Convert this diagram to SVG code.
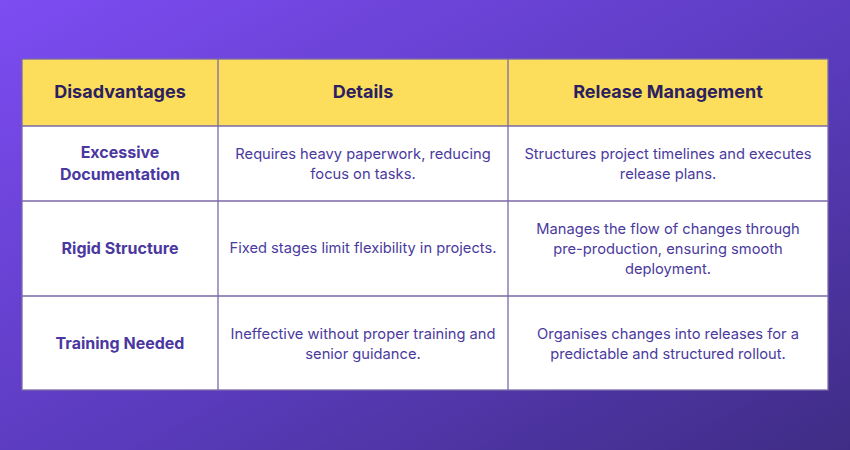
<svg xmlns="http://www.w3.org/2000/svg" width="850" height="450" viewBox="0 0 850 450">
<defs>
<linearGradient id="bg" x1="0" y1="0" x2="1" y2="1">
<stop offset="0" stop-color="#7d4cf2"/><stop offset="0.55" stop-color="#5a3bbd"/><stop offset="1" stop-color="#3f2d85"/>
</linearGradient>
<style>
.h{font-family:Inter,"Open Sans",sans-serif;font-weight:700;font-size:18px;fill:#2b2060;text-anchor:middle}
.k{font-family:Inter,"Open Sans",sans-serif;font-weight:700;font-size:16px;fill:#4a38a0;text-anchor:middle}
.t{font-family:Inter,"Open Sans",sans-serif;font-size:14.7px;fill:#4a3a9e;text-anchor:middle}
.ln{stroke:#7b6aa8;stroke-width:1.3;fill:none}
</style>
</defs>
<rect width="850" height="450" fill="url(#bg)"/>
<rect x="22" y="59" width="806" height="67" fill="#fddd5c"/>
<rect x="22" y="126" width="806" height="264" fill="#ffffff"/>
<g id="grid">
<rect class="ln" x="22" y="59" width="806" height="331"/>
<path class="ln" d="M218 59V390M508 59V390M22 126H828M22 201H828M22 296H828"/>
</g>
<g id="header">
<text class="h" x="120" y="98">Disadvantages</text>
<text class="h" x="363" y="98">Details</text>
<text class="h" x="668" y="98">Release Management</text>
</g>
<g id="row1">
<text class="k" x="120" y="158">Excessive</text>
<text class="k" x="120" y="180">Documentation</text>
<text class="t" x="363" y="159">Requires heavy paperwork, reducing</text>
<text class="t" x="363" y="179">focus on tasks.</text>
<text class="t" x="668" y="159">Structures project timelines and executes</text>
<text class="t" x="668" y="179">release plans.</text>
</g>
<g id="row2">
<text class="k" x="120" y="254">Rigid Structure</text>
<text class="t" x="363" y="253">Fixed stages limit flexibility in projects.</text>
<text class="t" x="668" y="234">Manages the flow of changes through</text>
<text class="t" x="668" y="254">pre-production, ensuring smooth</text>
<text class="t" x="668" y="274">deployment.</text>
</g>
<g id="row3">
<text class="k" x="120" y="349">Training Needed</text>
<text class="t" x="363" y="339">Ineffective without proper training and</text>
<text class="t" x="363" y="359">senior guidance.</text>
<text class="t" x="668" y="339">Organises changes into releases for a</text>
<text class="t" x="668" y="359">predictable and structured rollout.</text>
</g>
</svg>
